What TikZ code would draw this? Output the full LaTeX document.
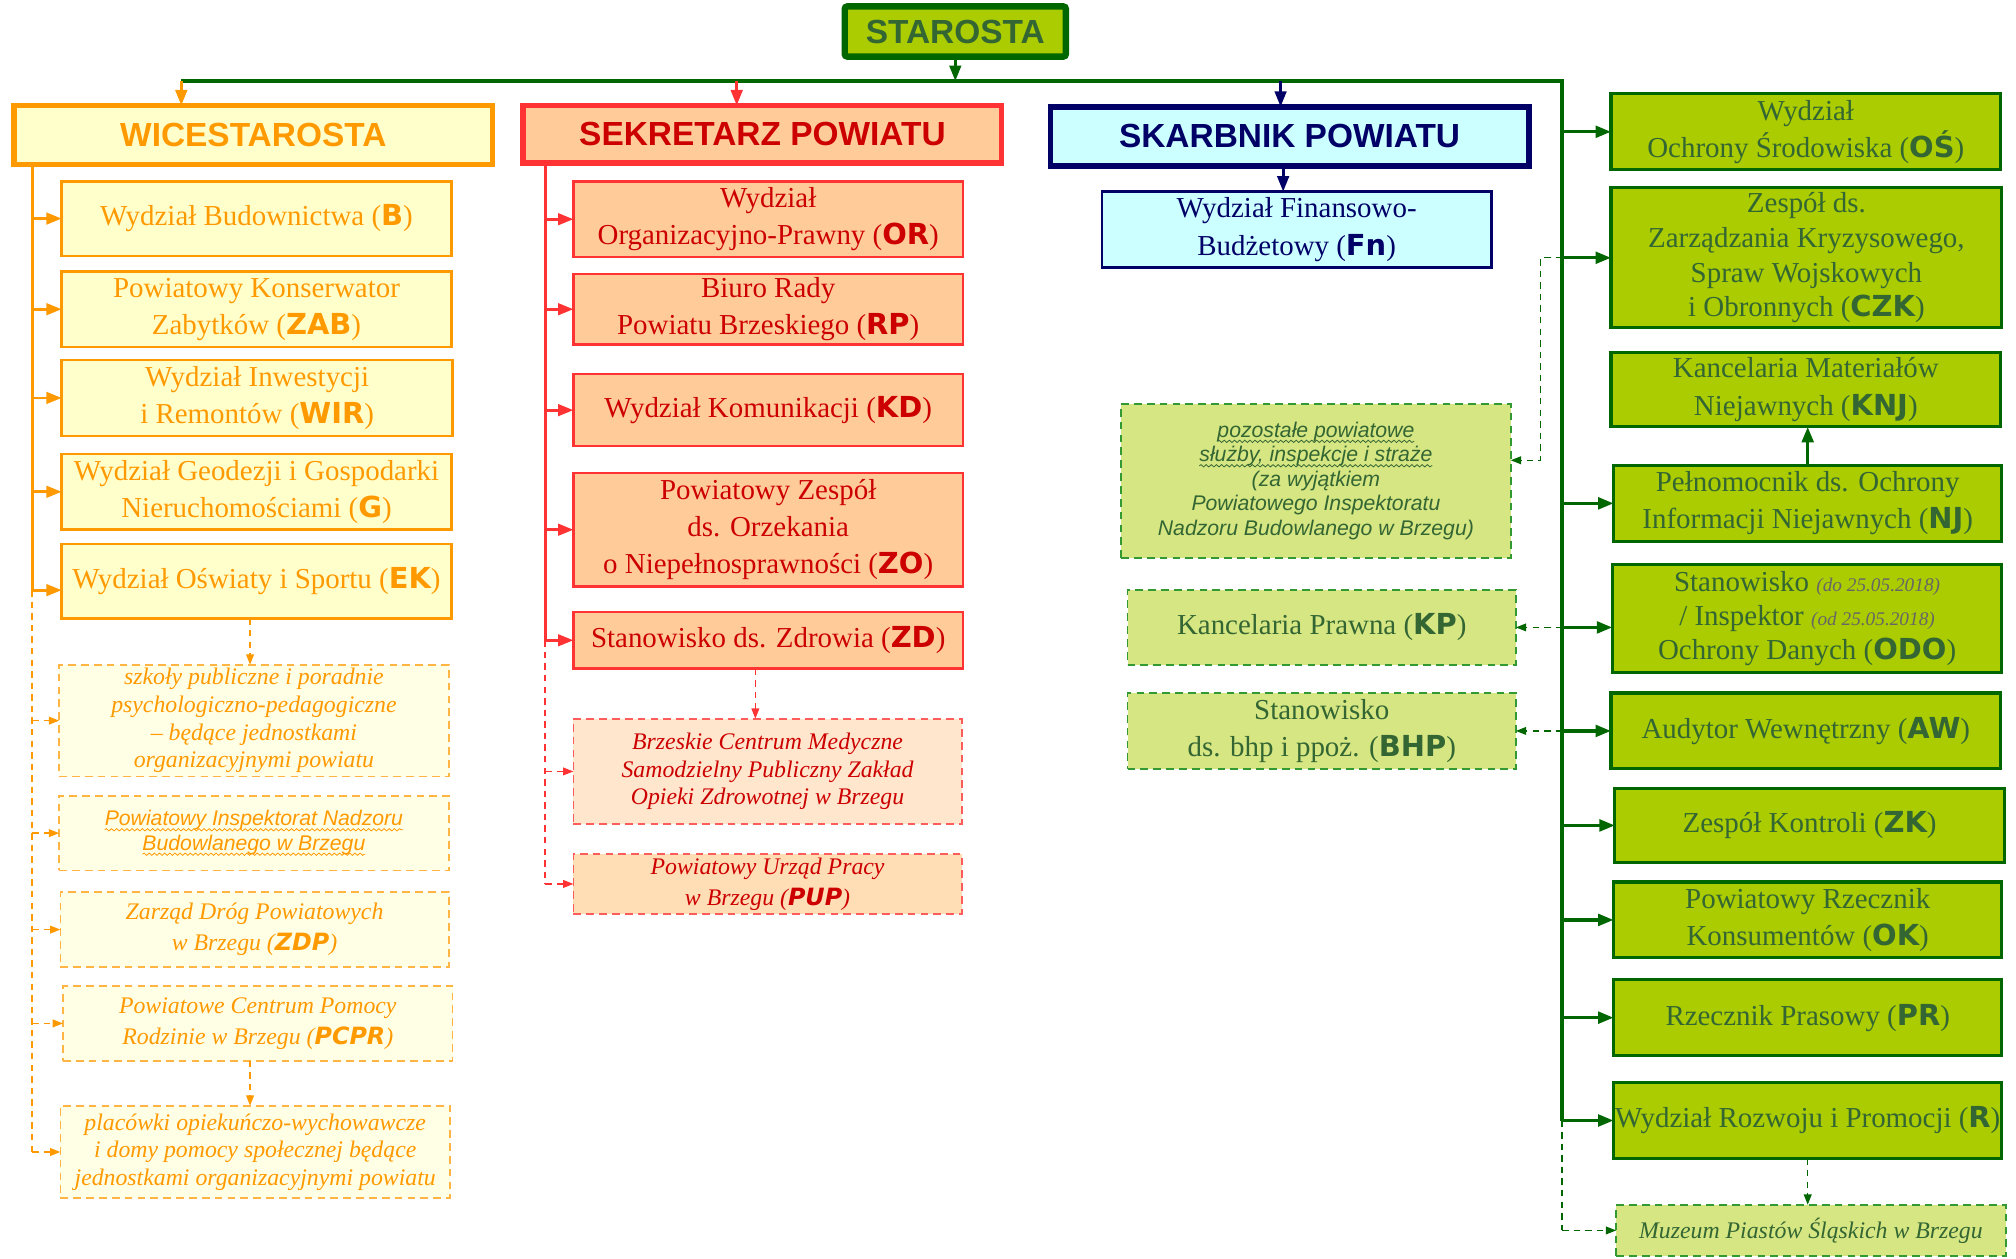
\documentclass[tikz,border=0pt]{standalone}
\usepackage{fontspec}
\setmainfont{Liberation Serif}
\newfontfamily\hdfont{Liberation Sans}
\newfontfamily\abfont{DejaVu Sans}
\usetikzlibrary{arrows.meta,calc,decorations.pathmorphing}

\definecolor{orgC}{HTML}{FF9900}
\definecolor{orgFill}{HTML}{FFFFCC}
\definecolor{orgFillL}{HTML}{FFFFE6}
\definecolor{orgDash}{HTML}{FFB444}
\definecolor{redC}{HTML}{FF3333}
\definecolor{redT}{HTML}{CC0000}
\definecolor{redFill}{HTML}{FFCC99}
\definecolor{redFillL}{HTML}{FFE6CC}
\definecolor{redFillP}{HTML}{FFDDB5}
\definecolor{redDash}{HTML}{FF5C5C}
\definecolor{navC}{HTML}{000066}
\definecolor{navFill}{HTML}{CCFFFF}
\definecolor{grnC}{HTML}{006600}
\definecolor{grnFill}{HTML}{AACC00}
\definecolor{grnT}{HTML}{336633}
\definecolor{grnFillL}{HTML}{D6E682}
\definecolor{grnDash}{HTML}{339933}
\definecolor{dateC}{HTML}{666666}

\newcommand\ab[1]{{\abfont\bfseries #1}}
\newcommand\abi[1]{{\abfont\bfseries\itshape #1}}
\newcommand\datef{\fontsize{15}{26}\selectfont\itshape\color{dateC}}
\newcommand\wv[2]{\tikz[baseline=(wvt.base)]{\node[inner sep=0pt, outer sep=0pt, draw=none, fill=none, minimum width=0pt, minimum height=0pt, text width=, align=left, text=#1, anchor=base] (wvt) at (0,0) {#2}; \draw[draw=#1, line width=0.6pt, solid, decorate, decoration={snake, amplitude=0.9pt, segment length=4pt}] ([yshift=-3pt]wvt.base west) -- ([yshift=-3pt]wvt.base east);}}
\newcommand\placebox[7]{\node[#1, anchor=north west, minimum width={(#5)-(#3)}, minimum height={(#6)-(#4)}] (#2) at (#3,#4) {#7};}

\tikzset{
  base/.style={align=center, inner sep=1pt, outer sep=0pt},
  head/.style={base, line width=4.5pt, font={\hdfont\bfseries\fontsize{26}{30}\selectfont}},
  mtext/.style={font={\fontsize{22.5}{29}\selectfont}},
  itext/.style={font={\itshape\fontsize{18.5}{21.5}\selectfont}},
  itextb/.style={font={\itshape\fontsize{18.5}{24}\selectfont}},
  stext/.style={font={\hdfont\itshape\fontsize{16.5}{19}\selectfont}},
  dashb/.style={line width=1.3pt, dash pattern=on 6pt off 4pt},
  obox/.style={base, mtext, draw=orgC, line width=2pt, fill=orgFill, text=orgC},
  odbox/.style={base, itext, dashb, draw=orgDash, fill=orgFillL, text=orgC},
  rbox/.style={base, mtext, draw=redC, line width=2pt, fill=redFill, text=redT},
  rdbox/.style={base, itext, dashb, draw=redDash, fill=redFillL, text=redT},
  nbox/.style={base, mtext, draw=navC, line width=2pt, fill=navFill, text=navC},
  gbox/.style={base, mtext, draw=grnC, line width=2.5pt, fill=grnFill, text=grnT},
  gdbox/.style={base, mtext, dashb, draw=grnDash, fill=grnFillL, text=grnT},
  tipS/.style={-{Triangle[length=12pt,width=9pt]}},
  tipD/.style={-{Triangle[length=8pt,width=6pt]}},
  oline/.style={draw=orgC, line width=2.2pt},
  oarr/.style={oline, tipS},
  odl/.style={draw=orgC, line width=1.1pt, dash pattern=on 5pt off 4pt},
  odarr/.style={odl, tipD},
  rline/.style={draw=redC, line width=2.2pt},
  rarr/.style={rline, tipS},
  rdl/.style={draw=redC, line width=1.1pt, dash pattern=on 5pt off 4pt},
  rdarr/.style={rdl, tipD},
  nline/.style={draw=navC, line width=2.2pt},
  narr/.style={nline, tipS},
  gline/.style={draw=grnC, line width=3pt},
  garr/.style={draw=grnC, line width=2.6pt, tipS},
  gdl/.style={draw=grnC, line width=1.1pt, dash pattern=on 5pt off 4pt},
  gdarr/.style={gdl, tipD},
}

\begin{document}
\begin{tikzpicture}[x=1pt,y=-1pt]
\useasboundingbox (0,0) rectangle (1568,979);

% heads
\placebox{head, draw=grnC, fill=grnFill, text=grnT, line width=5pt, rounded corners=2pt}{star}{657}{5}{829}{44}{STAROSTA}
\placebox{head, draw=orgC, fill=orgFill, text=orgC}{wice}{11}{82}{383}{128}{WICESTAROSTA}
\placebox{head, draw=redC, fill=redFill, text=redT}{sekr}{407}{82}{779}{127}{SEKRETARZ POWIATU}
\placebox{head, draw=navC, fill=navFill, text=navC}{skarb}{817}{83}{1189}{129}{SKARBNIK POWIATU}

% orange column
\placebox{obox}{wB}{48}{141}{351}{199}{Wydział Budownictwa (\ab{B})}
\placebox{obox}{wZAB}{48}{211}{351}{270}{Powiatowy Konserwator\\Zabytków (\ab{ZAB})}
\placebox{obox}{wWIR}{48}{280}{352}{339}{Wydział Inwestycji\\i Remontów (\ab{WIR})}
\placebox{obox}{wG}{48}{353}{351}{412}{Wydział Geodezji i Gospodarki\\Nieruchomościami (\ab{G})}
\placebox{obox}{wEK}{48}{423}{351}{481}{Wydział Oświaty i Sportu (\ab{EK})}
\placebox{odbox}{wSzk}{46}{517}{349}{604}{szkoły publiczne i poradnie\\psychologiczno-pedagogiczne\\– będące jednostkami\\organizacyjnymi powiatu}
\placebox{odbox, stext}{wPINB}{46}{619}{349}{677}{\wv{orgC}{Powiatowy Inspektorat Nadzoru}\\\wv{orgC}{Budowlanego w Brzegu}}
\placebox{odbox, itextb}{wZDP}{47}{694}{349}{752}{Zarząd Dróg Powiatowych\\w Brzegu (\abi{ZDP})}
\placebox{odbox, itextb}{wPCPR}{49}{767}{352}{825}{Powiatowe Centrum Pomocy\\Rodzinie w Brzegu (\abi{PCPR})}
\placebox{odbox}{wPlac}{47}{860}{350}{932}{placówki opiekuńczo-wychowawcze\\i domy pomocy społecznej będące\\jednostkami organizacyjnymi powiatu}

% red column
\placebox{rbox}{rOR}{446}{141}{749}{200}{Wydział\\Organizacyjno-Prawny (\ab{OR})}
\placebox{rbox}{rRP}{446}{213}{749}{268}{Biuro Rady\\Powiatu Brzeskiego (\ab{RP})}
\placebox{rbox}{rKD}{446}{291}{749}{347}{Wydział Komunikacji (\ab{KD})}
\placebox{rbox}{rZO}{446}{368}{749}{456}{Powiatowy Zespół\\ds. Orzekania\\o Niepełnosprawności (\ab{ZO})}
\placebox{rbox}{rZD}{446}{476}{749}{520}{Stanowisko ds. Zdrowia (\ab{ZD})}
\placebox{rdbox}{rBCM}{446}{559}{748}{641}{Brzeskie Centrum Medyczne\\Samodzielny Publiczny Zakład\\Opieki Zdrowotnej w Brzegu}
\placebox{rdbox, itextb, fill=redFillP}{rPUP}{446}{664}{748}{711}{Powiatowy Urząd Pracy\\w Brzegu (\abi{PUP})}

% navy
\placebox{nbox}{fn}{857}{149}{1160}{208}{Wydział Finansowo-\\Budżetowy (\ab{Fn})}

% light green
\placebox{gdbox, stext}{poz}{872}{314}{1175}{434}{\wv{grnT}{pozostałe powiatowe}\\\wv{grnT}{służby, inspekcje i straże}\\(za wyjątkiem\\Powiatowego Inspektoratu\\Nadzoru Budowlanego w Brzegu)}
\placebox{gdbox}{gKP}{877}{459}{1179}{517}{Kancelaria Prawna (\ab{KP})}
\placebox{gdbox}{gBHP}{877}{539}{1179}{598}{Stanowisko\\ds. bhp i ppoż. (\ab{BHP})}

% green right column
\placebox{gbox}{gOS}{1253}{73}{1556}{132}{Wydział\\Ochrony Środowiska (\ab{OŚ})}
\placebox{gbox, font={\fontsize{22.5}{27}\selectfont}}{gCZK}{1253}{146}{1557}{255}{Zespół ds.\\Zarządzania Kryzysowego,\\Spraw Wojskowych\\i Obronnych (\ab{CZK})}
\placebox{gbox}{gKNJ}{1253}{274}{1556}{332}{Kancelaria Materiałów\\Niejawnych (\ab{KNJ})}
\placebox{gbox}{gNJ}{1255}{362}{1557}{421}{Pełnomocnik ds. Ochrony\\Informacji Niejawnych (\ab{NJ})}
\placebox{gbox, font={\fontsize{22.5}{26.5}\selectfont}}{gODO}{1254}{439}{1557}{523}{Stanowisko {\datef (do 25.05.2018)}\\/ Inspektor {\datef (od 25.05.2018)}\\Ochrony Danych (\ab{ODO})}
\placebox{gbox}{gAW}{1253}{539}{1556}{598}{Audytor Wewnętrzny (\ab{AW})}
\placebox{gbox}{gZK}{1256}{613}{1559}{671}{Zespół Kontroli (\ab{ZK})}
\placebox{gbox}{gOK}{1255}{686}{1557}{745}{Powiatowy Rzecznik\\Konsumentów (\ab{OK})}
\placebox{gbox}{gPR}{1255}{762}{1557}{821}{Rzecznik Prasowy (\ab{PR})}
\placebox{gbox}{gR}{1255}{842}{1557}{901}{Wydział Rozwoju i Promocji (\ab{R})}
\placebox{gdbox, itext}{gMuz}{1257}{937}{1560}{977}{Muzeum Piastów Śląskich w Brzegu}

% bus coordinates
\coordinate (topL) at (141,63);
\coordinate (topS) at (573,63);
\coordinate (topK) at (996,63);
\coordinate (gbus) at (1215,63);
\coordinate (obus) at (25,0);
\coordinate (rbus) at (424,0);
\coordinate (ekin) at ($(wEK.west)+(0,7)$);
\coordinate (odoin) at (gODO.west |- gKP.east);
\coordinate (pozin) at ($(poz.east)+(0,-16)$);

% top connectors
\draw[gline] (topL) -- (gbus) -- (gbus |- gR.west);
\draw[gdl] (gbus |- gR.west) -- (gbus |- gMuz.west);
\draw[gdarr] (gbus |- gMuz.west) -- (gMuz.west);
\draw[garr, line width=2.2pt] (star.south) -- (star.south |- gbus);
\draw[oarr] (topL) -- (topL |- wice.north);
\draw[rarr] (topS) -- (topS |- sekr.north);
\draw[narr] (topK) -- (topK |- skarb.north);

% orange connectors
\draw[oline] (obus |- wice.south) -- (obus |- ekin);
\draw[odl] (obus |- ekin) -- (obus |- wPlac.west);
\foreach \n in {wB,wZAB,wWIR,wG} \draw[oarr] (obus |- \n.west) -- (\n.west);
\draw[oarr] (obus |- ekin) -- (ekin);
\foreach \n in {wSzk,wPINB,wZDP,wPCPR,wPlac} \draw[odarr] (obus |- \n.west) -- (\n.west);
\draw[odarr] ([xshift=-5]wEK.south) -- ([xshift=-5]wEK.south |- wSzk.north);
\draw[odarr] ([xshift=-6]wPCPR.south) -- ([xshift=-6]wPCPR.south |- wPlac.north);

% red connectors
\draw[rline] (rbus |- sekr.south) -- (rbus |- rZD.west);
\draw[rdl] (rbus |- rZD.west) -- (rbus |- rPUP.west);
\foreach \n in {rOR,rRP,rKD,rZO,rZD} \draw[rarr] (rbus |- \n.west) -- (\n.west);
\foreach \n in {rBCM,rPUP} \draw[rdarr] (rbus |- \n.west) -- (\n.west);
\draw[rdarr] ([xshift=-10]rZD.south) -- ([xshift=-10]rZD.south |- rBCM.north);

% navy
\draw[narr] ([xshift=-5]skarb.south) -- ([xshift=-5]skarb.south |- fn.north);

% green connectors
\foreach \n in {gOS,gCZK,gNJ,gAW,gZK,gOK,gPR,gR} \draw[garr] (gbus |- \n.west) -- (\n.west);
\draw[garr] (gbus |- odoin) -- (odoin);
\draw[garr] (gNJ.north) -- (gNJ.north |- gKNJ.south);
\draw[gdarr] (gbus |- gKP.east) -- (gKP.east);
\draw[gdarr] (gbus |- gBHP.east) -- (gBHP.east);
\draw[gdarr] (gbus |- gCZK.west) -- ++(-17,0) |- (pozin);
\draw[gdarr] (gR.south) -- (gR.south |- gMuz.north);
\end{tikzpicture}
\end{document}
